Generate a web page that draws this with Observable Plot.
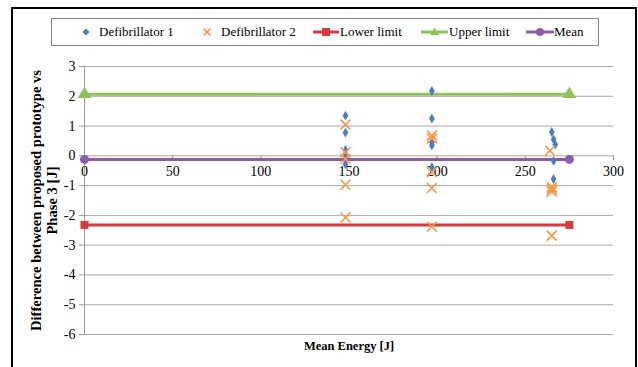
<!DOCTYPE html>
<html><head><meta charset="utf-8">
<script src="https://cdn.jsdelivr.net/npm/d3@7"></script>
<script src="https://cdn.jsdelivr.net/npm/@observablehq/plot@0.6"></script>
<style>
body{margin:0;background:#fff;}
#wrap{position:relative;width:638px;height:367px;overflow:hidden;font-family:"Liberation Serif","Times New Roman",Times,"DejaVu Serif",serif;}
#chart{position:absolute;left:0;top:0;}
#frame{position:absolute;left:11px;top:7px;width:626px;height:420px;border:2px solid #000;box-sizing:border-box;}
#legend{position:absolute;left:51px;top:18px;width:548px;height:28px;border:1px solid #8a8a8a;box-sizing:border-box;background:#fff;}
.item{position:absolute;top:0;height:26px;line-height:26px;font-size:13px;white-space:nowrap;color:#000;}
.sym{position:absolute;top:0;}
svg text{font-family:"Liberation Serif","Times New Roman",Times,"DejaVu Serif",serif;}
</style></head><body>
<div id="wrap"><div id="frame"></div><div id="chart"></div><div id="legend"></div></div>
<script>
// ---- data ----
const xTicks = [0, 50, 100, 150, 200, 250, 300];
const yTicks = [-6, -5, -4, -3, -2, -1, 0, 1, 2, 3];
const seriesNames = ["Defibrillator 1", "Defibrillator 2", "Lower limit", "Upper limit", "Mean"];

const d1X = [148, 148, 148, 148, 148, 197, 197, 197, 197, 197, 265, 266, 267, 266, 266];
const d1Y = [1.35, 0.78, 0.2, 0.05, -0.28, 2.18, 1.25, 0.45, 0.35, -0.38, 0.8, 0.55, 0.38, -0.17, -0.78];
const d2X = [148, 148, 148, 148, 148, 197, 197, 197, 197, 197, 264, 265, 265, 265, 265];
const d2Y = [1.05, 0.12, -0.1, -0.97, -2.07, 0.68, 0.58, -0.55, -1.08, -2.38, 0.17, -1.05, -1.12, -1.2, -2.68];

const limitX = [0, 275];
const lowerLimit = -2.32;
const upperLimit = 2.07;
const meanValue = -0.12;

const colors = {d1: "#4a7ec0", d2: "#f79646", lower: "#d33b3e", upper: "#8dc456", mean: "#8b5ca8"};
const serif = "'Liberation Serif', 'Times New Roman', Times, 'DejaVu Serif', serif";

const d1 = d1X.map((x, i) => ({x, y: d1Y[i]}));
const d2 = d2X.map((x, i) => ({x, y: d2Y[i]}));
const refLines = [
  {name: seriesNames[2], y: lowerLimit, color: colors.lower, symbol: "square", r: 4.5},
  {name: seriesNames[3], y: upperLimit, color: colors.upper, symbol: "triangle", r: 5},
  {name: seriesNames[4], y: meanValue, color: colors.mean, symbol: "circle", r: 4.5}
];
const refPts = refLines.flatMap(l => limitX.map(x => ({x, y: l.y, name: l.name})));

const lineMarks = refLines.flatMap(l => {
  const pts = refPts.filter(p => p.name === l.name);
  return [
    Plot.line(pts, {x: "x", y: "y", stroke: l.color, strokeWidth: 3}),
    Plot.dot(pts, {x: "x", y: "y", fill: l.color, stroke: "none", symbol: l.symbol, r: l.r})
  ];
});

const chart = Plot.plot({
  width: 638, height: 367,
  marginTop: 66, marginBottom: 33, marginLeft: 84, marginRight: 25,
  x: {domain: [0, 300], axis: null},
  y: {domain: [-6, 3]},
  style: {fontFamily: serif, fontSize: "13.5px", color: "#000", background: "transparent"},
  marks: [
    Plot.ruleY(yTicks, {stroke: "#a8a8a8", strokeWidth: 1}),
    Plot.ruleX([0], {stroke: "#9a9a9a", strokeWidth: 1}),
    Plot.axisY({ticks: yTicks, tickSize: 5, tickPadding: 4, stroke: "#9a9a9a", label: null, fontSize: 14, tickFormat: d => String(d)}),
    Plot.ruleX(xTicks, {x: d => d, y1: 0, y2: -0.17, stroke: "#9a9a9a"}),
    Plot.text(xTicks, {x: d => d, y: 0, dy: 16, text: d => String(d), fontSize: 14}),
    ...lineMarks,
    Plot.dot(d1, {x: "x", y: "y", symbol: "diamond", r: 3, fill: colors.d1, stroke: "none"}),
    Plot.dot(d2, {x: "x", y: "y", symbol: "times", r: 4.6, stroke: colors.d2, strokeWidth: 1.6}),
    Plot.text(["Difference between proposed prototype vs\nPhase 3 [J]"], {frameAnchor: "left", textAnchor: "middle", lineAnchor: "middle", rotate: -90, dx: -41, fontWeight: "bold", fontSize: 14.6, lineHeight: 1.1}),
    Plot.text(["Mean Energy [J]"], {frameAnchor: "bottom", textAnchor: "middle", lineAnchor: "middle", dy: 11, fontWeight: "bold", fontSize: 12.5})
  ]
});
document.getElementById("chart").appendChild(chart);

// ---- legend ----
const legend = document.getElementById("legend");
const items = [
  {text: seriesNames[0], sx: 28, tx: 47, svg: `<svg width="12" height="26"><path d="M6,9.5 L9.5,13 L6,16.5 L2.5,13Z" fill="${colors.d1}"/></svg>`},
  {text: seriesNames[1], sx: 149, tx: 169, svg: `<svg width="12" height="26"><path d="M2.5,9.5 L9.5,16.5 M9.5,9.5 L2.5,16.5" stroke="${colors.d2}" stroke-width="1.6"/></svg>`},
  {text: seriesNames[2], sx: 261, tx: 288, svg: `<svg width="26" height="26"><line x1="0" x2="26" y1="13" y2="13" stroke="${colors.lower}" stroke-width="3"/><rect x="9" y="9" width="8" height="8" fill="${colors.lower}"/></svg>`},
  {text: seriesNames[3], sx: 369, tx: 397, svg: `<svg width="27" height="26"><line x1="0" x2="27" y1="13" y2="13" stroke="${colors.upper}" stroke-width="3"/><path d="M13.5,8.5 L18,16 L9,16Z" fill="${colors.upper}"/></svg>`},
  {text: seriesNames[4], sx: 474, tx: 502, svg: `<svg width="28" height="26"><line x1="0" x2="28" y1="13" y2="13" stroke="${colors.mean}" stroke-width="3"/><circle cx="14" cy="13" r="4" fill="${colors.mean}"/></svg>`}
];
items.forEach(it => {
  const s = document.createElement("div");
  s.className = "sym"; s.style.left = it.sx + "px"; s.innerHTML = it.svg;
  legend.appendChild(s);
  const t = document.createElement("div");
  t.className = "item"; t.style.left = it.tx + "px"; t.textContent = it.text;
  legend.appendChild(t);
});
</script>
</body></html>
